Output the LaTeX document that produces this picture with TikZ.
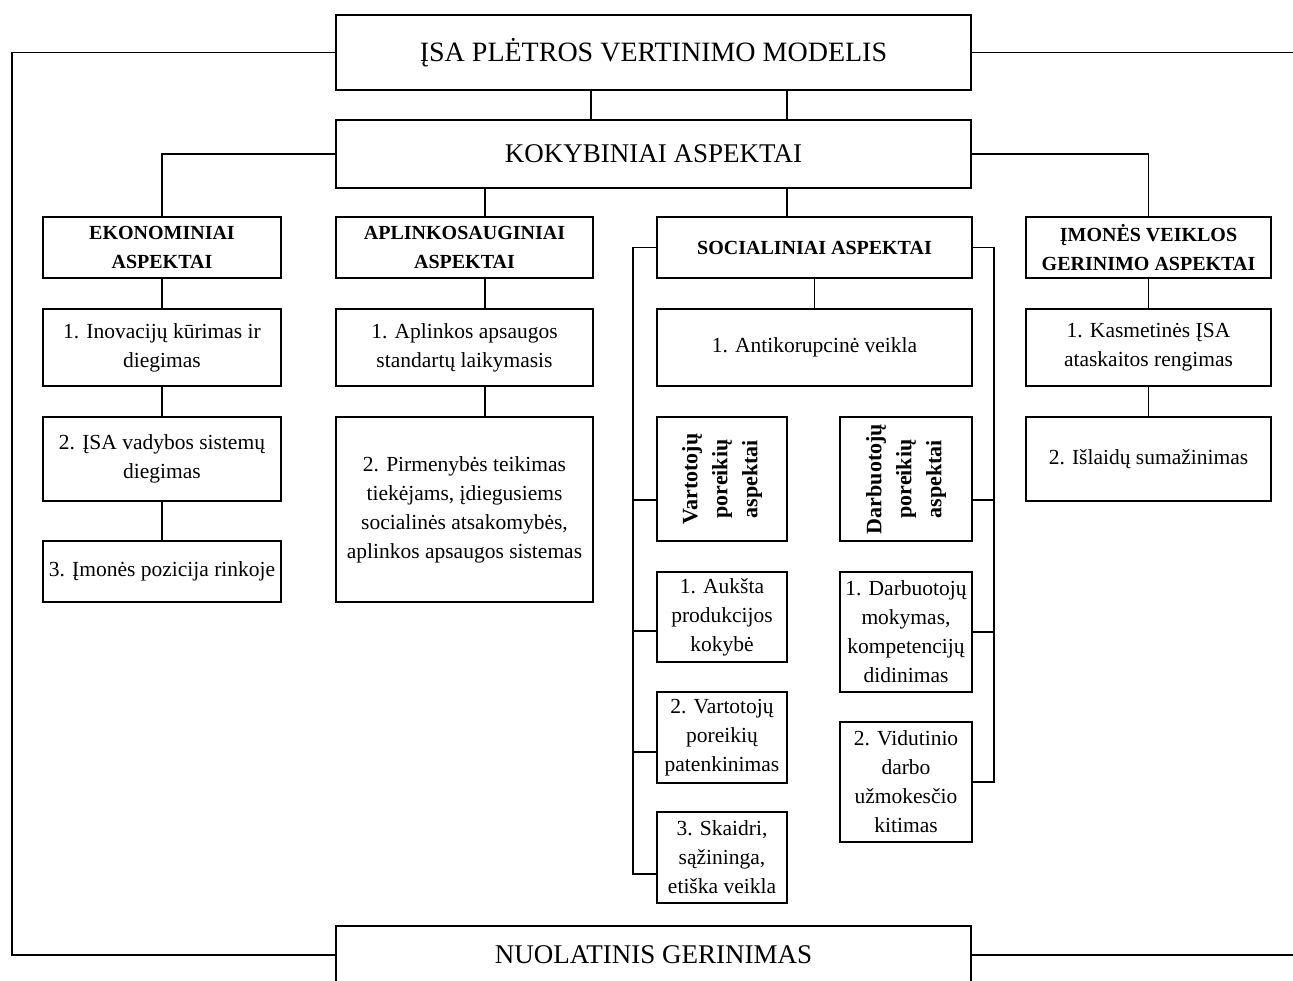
\documentclass[tikz,border=0pt]{standalone}
\usepackage{fontspec}
\setmainfont{Liberation Serif}
\usetikzlibrary{calc}

\tikzset{
  blk/.style={draw, line width=1.4pt, inner sep=2pt, align=center, font=\fontsize{21.5}{29}\selectfont},
  hdr/.style={blk, font=\fontsize{20}{29}\selectfont\bfseries},
  rot/.style={blk, rotate=90, font=\fontsize{22}{30}\selectfont\bfseries},
  ttl/.style={blk, font=\fontsize{27}{32}\selectfont},
  lnk/.style={line width=1.3pt},
}

\begin{document}
\begin{tikzpicture}[x=1pt,y=-1pt]
  \clip (0,0) rectangle (1293,981);
  \fill[white] (0,0) rectangle (1293,981);

  % helper coordinates for rails and offsets
  \coordinate (lft) at (12,0);
  \coordinate (rgt) at (1300,0);
  \coordinate (xa) at (591,0);
  \coordinate (xb) at (787,0);
  \coordinate (xc) at (485,0);
  \coordinate (rl) at (633,0);
  \coordinate (rr) at (994,0);
  \coordinate (yv) at (0,500);
  \coordinate (y1) at (0,631);
  \coordinate (y2) at (0,752);
  \coordinate (y3) at (0,874);

  % main levels
  \node[ttl, font=\fontsize{28}{32}\selectfont, minimum width=635, minimum height=75] (model) at (653.5,52.5) {ĮSA PLĖTROS VERTINIMO MODELIS};
  \node[ttl, minimum width=635, minimum height=68] (kok) at (653.5,154) {KOKYBINIAI ASPEKTAI};
  \node[ttl, minimum width=635, minimum height=58] (nuol) at (653.5,955) {NUOLATINIS GERINIMAS};

  % aspect headers
  \node[hdr, minimum width=238, minimum height=61] (ekon) at (162,247.5) {EKONOMINIAI\\ASPEKTAI};
  \node[hdr, minimum width=257, minimum height=61] (apl) at (464.5,247.5) {APLINKOSAUGINIAI\\ASPEKTAI};
  \node[hdr, minimum width=315, minimum height=61] (soc) at (814.5,247.5) {SOCIALINIAI ASPEKTAI};
  \node[hdr, minimum width=245, minimum height=61] (imon) at (1148.5,247.5) {ĮMONĖS VEIKLOS\\GERINIMO ASPEKTAI};

  % economic column
  \node[blk, minimum width=238, minimum height=77] (e1) at (162,347.5) {1. Inovacijų kūrimas ir\\diegimas};
  \node[blk, minimum width=238, minimum height=84] (e2) at (162,459) {2. ĮSA vadybos sistemų\\diegimas};
  \node[blk, minimum width=238, minimum height=61] (e3) at (162,571.5) {3. Įmonės pozicija rinkoje};

  % environmental column
  \node[blk, minimum width=257, minimum height=77] (a1) at (464.5,347.5) {1. Aplinkos apsaugos\\standartų laikymasis};
  \node[blk, minimum width=257, minimum height=185] (a2) at (464.5,509.5) {2. Pirmenybės teikimas\\tiekėjams, įdiegusiems\\socialinės atsakomybės,\\aplinkos apsaugos sistemas};

  % social column
  \node[blk, minimum width=315, minimum height=77] (anti) at (814.5,347.5) {1. Antikorupcinė veikla};
  \node[rot, minimum width=124, minimum height=130] (vart) at (722,479) {Vartotojų\\poreikių\\aspektai};
  \node[rot, minimum width=124, minimum height=132] (darb) at (906,479) {Darbuotojų\\poreikių\\aspektai};
  \node[blk, minimum width=130, minimum height=90] (v1) at (722,617) {1. Aukšta\\produkcijos\\kokybė};
  \node[blk, minimum width=130, minimum height=91] (v2) at (722,737.5) {2. Vartotojų\\poreikių\\patenkinimas};
  \node[blk, minimum width=130, minimum height=91] (v3) at (722,857.5) {3. Skaidri,\\sąžininga,\\etiška veikla};
  \node[blk, minimum width=132, minimum height=120] (d1) at (906,632) {1. Darbuotojų\\mokymas,\\kompetencijų\\didinimas};
  \node[blk, minimum width=132, minimum height=120] (d2) at (906,782) {2. Vidutinio\\darbo\\užmokesčio\\kitimas};

  % business improvement column
  \node[blk, minimum width=245, minimum height=77] (i1) at (1148.5,347.5) {1. Kasmetinės ĮSA\\ataskaitos rengimas};
  \node[blk, minimum width=245, minimum height=84] (i2) at (1148.5,459) {2. Išlaidų sumažinimas};

  % outer loop
  \draw[lnk] (model.west) -| (lft |- nuol.west) -- (nuol.west);
  \draw[lnk] (model.east) -- (rgt |- model.east);
  \draw[lnk] (nuol.east) -- (rgt |- nuol.east);

  % top links
  \draw[lnk] (model.south -| xa) -- (kok.north -| xa);
  \draw[lnk] (model.south -| xb) -- (kok.north -| xb);
  \draw[lnk] (kok.west) -| (ekon.north);
  \draw[lnk] (kok.east) -| (imon.north);
  \draw[lnk] (kok.south -| xc) -- (apl.north -| xc);
  \draw[lnk] (kok.south -| xb) -- (soc.north -| xb);

  % column links
  \draw[lnk] (ekon) -- (e1);
  \draw[lnk] (e1) -- (e2);
  \draw[lnk] (e2) -- (e3);
  \draw[lnk] (apl.south -| xc) -- (a1.north -| xc);
  \draw[lnk] (a1.south -| xc) -- (a2.north -| xc);
  \draw[lnk] (soc) -- (anti);
  \draw[lnk] (imon) -- (i1);
  \draw[lnk] (i1) -- (i2);

  % social rails
  \draw[lnk] (soc.west) -| (rl |- y3) -- (v3.west |- y3);
  \draw[lnk] (rl |- yv) -- (vart.north |- yv);
  \draw[lnk] (rl |- y1) -- (v1.west |- y1);
  \draw[lnk] (rl |- y2) -- (v2.west |- y2);
  \draw[lnk] (soc.east) -| (rr |- d2.east) -- (d2.east);
  \draw[lnk] (rr |- yv) -- (darb.south |- yv);
  \draw[lnk] (rr |- d1.east) -- (d1.east);
\end{tikzpicture}
\end{document}
